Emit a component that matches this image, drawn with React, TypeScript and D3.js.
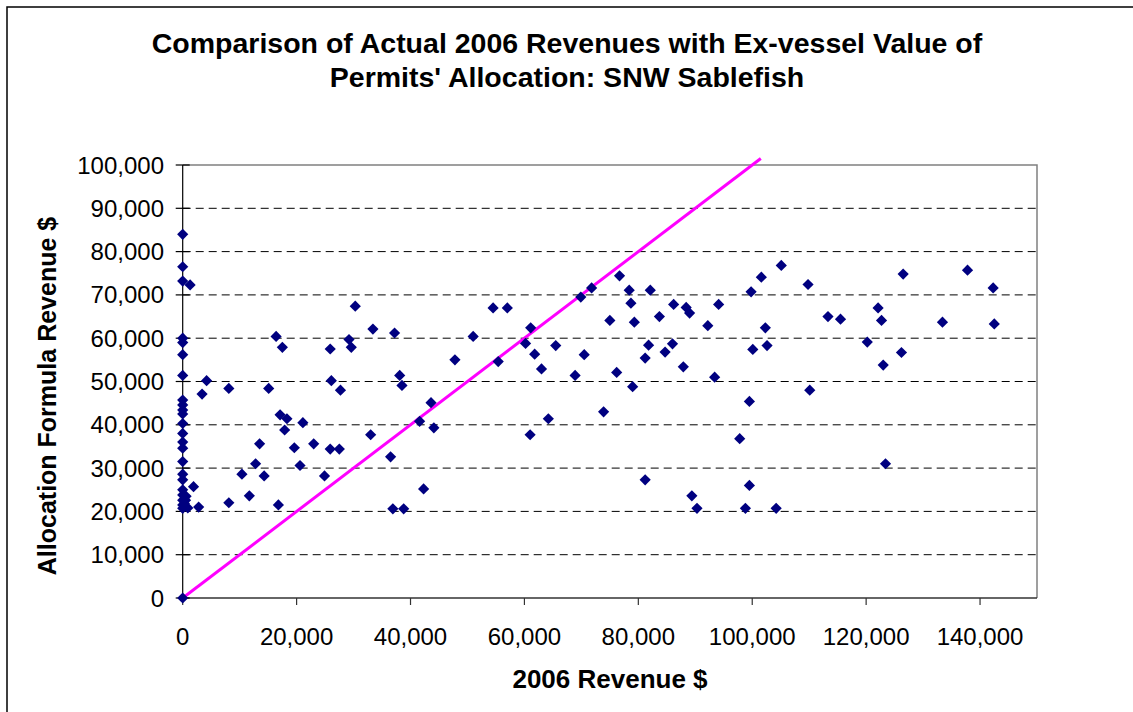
import * as d3 from 'd3';

// 2006 revenue ($) vs allocation formula revenue ($)
const revenue2006 = [
  0, 0, 0, 0, 0, 0, 0, 0, 0, 0, 0, 0, 0, 0, 0, 0, 0, 0, 0, 0, 0, 0, 0, 0,
  500, 900, 1300, 1900, 2800, 600, 300,
  3400, 4200, 8100, 8100, 10400, 11700, 12800, 13500, 14300, 15100, 16400, 16800,
  17100, 17500, 17900, 18300, 19600, 20600, 21100, 23000, 24900, 25900, 25900, 26100,
  27500, 27700, 29200, 29600, 30300, 33000, 33400, 36500, 36900, 37200, 38100, 38500,
  38800, 41600, 42300, 43600, 44100, 47800, 51000, 54500, 55400, 57000, 60200, 61000,
  61100, 61800, 63000, 64200, 65500, 68900, 69900, 70500, 71800, 73900, 75000, 76200,
  76700, 78400, 78700, 79000, 79300, 81200, 81200, 81800, 82100, 83700, 84700, 86000,
  86200, 87900, 88400, 89000, 89400, 90300, 92200, 93400, 94100, 97800, 98800, 99500,
  99500, 99800, 100100, 101600, 102300, 102600, 104200, 105100, 109800, 110100, 113300,
  115500, 120200, 122100, 122700, 123000, 123400, 126200, 126500, 133400, 137800,
  142300, 142500,
];

const allocationRevenue = [
  0, 20700, 21500, 22600, 23800, 25000, 27300, 28600, 31500, 34600, 36000, 38000,
  40300, 42500, 43400, 44600, 45700, 51400, 56200, 59000, 60000, 73200, 76500, 84000,
  22600, 20800, 72300, 25700, 21000, 23500, 21800,
  47100, 50200, 48400, 22000, 28600, 23600, 31000, 35600, 28200, 48400, 60400, 21500,
  42300, 57900, 38800, 41400, 34700, 30600, 40500, 35600, 28200, 57500, 34400, 50200,
  34400, 48000, 59700, 57900, 67400, 37700, 62100, 32600, 20600, 61200, 51400, 49100,
  20600, 40800, 25200, 45100, 39300, 55000, 60400, 67000, 54600, 67000, 58800, 37700,
  62400, 56300, 52900, 41400, 58300, 51400, 69500, 56200, 71600, 43000, 64100, 52100,
  74400, 71100, 68100, 48800, 63700, 55400, 27300, 58400, 71100, 65000, 56800, 58700,
  67800, 53400, 67100, 65800, 23600, 20700, 62900, 51000, 67800, 36800, 20700, 45400,
  26000, 70700, 57400, 74100, 62400, 58300, 20700, 76800, 72400, 48000, 65000,
  64400, 59100, 67000, 64100, 53800, 31000, 56700, 74800, 63700, 75700,
  71600, 63300,
];

// the reference line (equal values), endpoints as drawn
const refLineX = [0, 101500];
const refLineY = [0, 101500];

const xTicks = [0, 20000, 40000, 60000, 80000, 100000, 120000, 140000];
const yTicks = [0, 10000, 20000, 30000, 40000, 50000, 60000, 70000, 80000, 90000, 100000];

const titleLines = [
  'Comparison of Actual 2006 Revenues with Ex-vessel Value of',
  "Permits' Allocation: SNW Sablefish",
];

const W = 1133;
const H = 712;
const plot = { left: 182.7, right: 1037, top: 165, bottom: 598 };
const font = '"Liberation Sans", Arial, sans-serif';

export default function App() {
  const x = d3.scaleLinear().domain([0, 150000]).range([plot.left, plot.right]);
  const y = d3.scaleLinear().domain([0, 100000]).range([plot.bottom, plot.top]);
  const fmt = d3.format(',');

  const points = revenue2006.map((r, i) => ({ r, a: allocationRevenue[i] }));
  const refLine = d3
    .line<number>()
    .x(d => x(refLineX[d]))
    .y(d => y(refLineY[d]))(refLineX.map((_, i) => i));

  const diamond = 'M0,-5.6L5.6,0L0,5.6L-5.6,0Z';

  return (
    <div style={{ position: 'absolute', left: 0, top: 0 }}>
      <svg width={W} height={H} style={{ display: 'block', background: '#fff' }}>
        {/* chart frame */}
        <rect x={7} y={7} width={W + 20} height={H + 20} fill="#fff" stroke="#000" strokeWidth={1.5} />

        {/* title */}
        {titleLines.map((t, i) => (
          <text
            key={i}
            x={567}
            y={53 + i * 34}
            textAnchor="middle"
            fontFamily={font}
            fontWeight="bold"
            fontSize={28.5}
          >
            {t}
          </text>
        ))}

        {/* gridlines */}
        {yTicks
          .filter(t => t > 0 && t < 100000)
          .map(t => (
            <line
              key={t}
              x1={plot.left}
              x2={plot.right}
              y1={y(t)}
              y2={y(t)}
              stroke="#000"
              strokeWidth={1}
              strokeDasharray="8,5"
            />
          ))}

        {/* plot area border (top/right) */}
        <polyline
          points={`${plot.left},${plot.top} ${plot.right},${plot.top} ${plot.right},${plot.bottom}`}
          fill="none"
          stroke="#808080"
          strokeWidth={1.5}
        />

        {/* axes */}
        <line x1={plot.left} x2={plot.right} y1={plot.bottom} y2={plot.bottom} stroke="#333" strokeWidth={1.5} />
        <line x1={plot.left} x2={plot.left} y1={plot.top} y2={plot.bottom} stroke="#000" strokeWidth={1.2} />

        {xTicks.map(t => (
          <g key={t}>
            <line x1={x(t)} x2={x(t)} y1={plot.bottom} y2={plot.bottom + 7} stroke="#333" strokeWidth={1.2} />
            <text x={x(t)} y={645} textAnchor="middle" fontFamily={font} fontSize={24}>
              {fmt(t)}
            </text>
          </g>
        ))}
        {yTicks.map(t => (
          <g key={t}>
            <line x1={plot.left - 7} x2={plot.left + 7} y1={y(t)} y2={y(t)} stroke="#000" strokeWidth={1.2} />
            <text x={164} y={y(t) + 8.5} textAnchor="end" fontFamily={font} fontSize={24}>
              {fmt(t)}
            </text>
          </g>
        ))}

        {/* axis titles */}
        <text x={610} y={688} textAnchor="middle" fontFamily={font} fontWeight="bold" fontSize={26}>
          2006 Revenue $
        </text>
        <text
          transform={`translate(56,${396}) rotate(-90)`}
          textAnchor="middle"
          fontFamily={font}
          fontWeight="bold"
          fontSize={25}
        >
          Allocation Formula Revenue $
        </text>

        {/* equal-value reference line */}
        <path d={refLine ?? ''} fill="none" stroke="#FF00FF" strokeWidth={3} />

        {/* points */}
        {points.map((p, i) => (
          <path key={i} d={diamond} transform={`translate(${x(p.r)},${y(p.a)})`} fill="#000080" />
        ))}
      </svg>
    </div>
  );
}
